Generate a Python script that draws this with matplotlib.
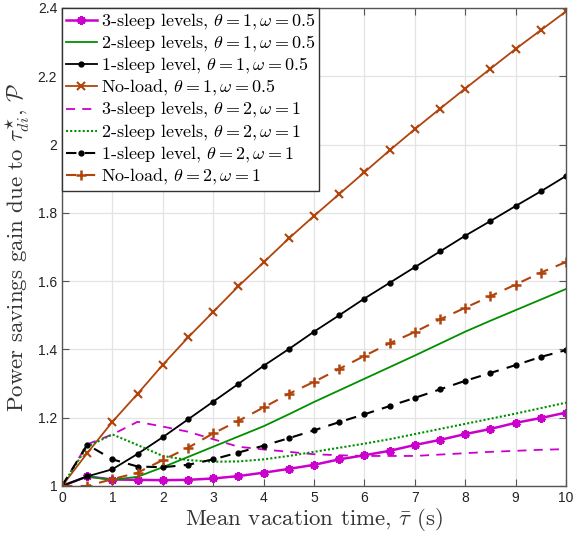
import numpy as np
import matplotlib
matplotlib.use("Agg")
import matplotlib.pyplot as plt

# mean vacation time (s)
tau = np.arange(0, 10.5, 0.5)

# theta = 1, omega = 0.5
sleep3_a = [1.0, 1.028, 1.019, 1.018, 1.017, 1.018, 1.022, 1.029, 1.039, 1.050, 1.062,
            1.078, 1.090, 1.103, 1.120, 1.135, 1.152, 1.167, 1.185, 1.199, 1.215]
sleep2_a = [1.0, 1.028, 1.018, 1.027, 1.055, 1.085, 1.115, 1.145, 1.175, 1.210, 1.246,
            1.280, 1.314, 1.348, 1.382, 1.417, 1.452, 1.484, 1.515, 1.546, 1.577]
sleep1_a = [1.0, 1.028, 1.049, 1.094, 1.143, 1.195, 1.247, 1.299, 1.352, 1.401, 1.452,
            1.500, 1.549, 1.595, 1.641, 1.687, 1.733, 1.776, 1.820, 1.863, 1.908]
noload_a = [1.0, 1.096, 1.188, 1.270, 1.355, 1.435, 1.510, 1.585, 1.655, 1.725, 1.791,
            1.855, 1.919, 1.983, 2.045, 2.105, 2.164, 2.222, 2.280, 2.335, 2.390]

# theta = 2, omega = 1
sleep3_b = [1.0, 1.122, 1.151, 1.188, 1.174, 1.159, 1.137, 1.115, 1.107, 1.100, 1.093,
            1.090, 1.088, 1.088, 1.088, 1.092, 1.096, 1.100, 1.103, 1.106, 1.108]
sleep2_b = [1.0, 1.115, 1.151, 1.120, 1.088, 1.076, 1.071, 1.072, 1.078, 1.088, 1.100,
            1.112, 1.124, 1.137, 1.152, 1.167, 1.182, 1.197, 1.212, 1.228, 1.244]
sleep1_b = [1.0, 1.121, 1.078, 1.057, 1.055, 1.062, 1.078, 1.098, 1.118, 1.140, 1.163,
            1.187, 1.210, 1.234, 1.258, 1.283, 1.308, 1.331, 1.354, 1.378, 1.398]
noload_b = [1.0, 1.000, 1.020, 1.039, 1.076, 1.112, 1.154, 1.191, 1.230, 1.270, 1.305,
            1.343, 1.381, 1.418, 1.451, 1.488, 1.522, 1.556, 1.590, 1.625, 1.656]

magenta = "#CC00CC"
green = "#008F00"
orange = "#B0440C"

plt.rcParams["mathtext.fontset"] = "cm"

fig = plt.figure(figsize=(5.81, 5.33), dpi=100)
ax = fig.add_axes([0.1067, 0.0882, 0.8675, 0.8968])

star = (6, 2, 0)
ax.plot(tau, sleep3_a, color=magenta, lw=1.8, marker=star, ms=6, mew=2.2,
        label=r"3-sleep levels, $\theta = 1, \omega = 0.5$")
ax.plot(tau, sleep2_a, color=green, lw=1.3,
        label=r"2-sleep levels, $\theta = 1, \omega = 0.5$")
ax.plot(tau, sleep1_a, color="black", lw=1.3, marker=".", ms=7,
        label=r"1-sleep level, $\theta = 1, \omega = 0.5$")
ax.plot(tau, noload_a, color=orange, lw=1.3, marker="x", ms=5.5, mew=1.5,
        label=r"No-load, $\theta = 1, \omega = 0.5$")
ax.plot(tau, sleep3_b, color=magenta, lw=1.3, ls=(0, (5, 4)),
        label=r"3-sleep levels, $\theta = 2, \omega = 1$")
ax.plot(tau, sleep2_b, color=green, lw=1.5, ls=(0, (1, 1)),
        label=r"2-sleep levels, $\theta = 2, \omega = 1$")
ax.plot(tau, sleep1_b, color="black", lw=1.5, ls=(0, (5, 4)), marker=".", ms=7,
        label=r"1-sleep level, $\theta = 2, \omega = 1$")
ax.plot(tau, noload_b, color=orange, lw=1.5, ls=(0, (5, 4)), marker="+", ms=7, mew=1.8,
        label=r"No-load, $\theta = 2, \omega = 1$")

ax.set_xlim(0, 10)
ax.set_ylim(1, 2.4)
ax.set_xticks(range(0, 11))
ax.set_yticks(np.arange(1, 2.41, 0.2))
ax.set_yticklabels(["1", "1.2", "1.4", "1.6", "1.8", "2", "2.2", "2.4"])
ax.grid(True, color="#E3E3E3", lw=0.9)
ax.set_axisbelow(True)
ax.tick_params(direction="in", top=True, right=True, length=5, color="#555555",
               labelsize=10, labelcolor="#222222")
for lbl in ax.get_xticklabels() + ax.get_yticklabels():
    lbl.set_family("Liberation Sans")
for s in ax.spines.values():
    s.set_color("#555555")
    s.set_linewidth(1.0)

ax.set_xlabel(r"Mean vacation time, $\bar{\tau}$ (s)", family="cmr10", fontsize=16.5,
              color="#333333", labelpad=1)
ax.set_ylabel(r"Power savings gain due to $\tau_{di}^{\star}$, $\mathcal{P}$",
              family="cmr10", fontsize=16.5, color="#333333", labelpad=4)

leg = ax.legend(loc="upper left", borderaxespad=0.0, fancybox=False,
                edgecolor="#333333", framealpha=1, handlelength=1.75,
                handletextpad=0.2, borderpad=0.2, labelspacing=0.12,
                prop={"family": "cmr10", "size": 13})
leg.get_frame().set_linewidth(1.0)

fig.savefig("out.png", dpi=100)
